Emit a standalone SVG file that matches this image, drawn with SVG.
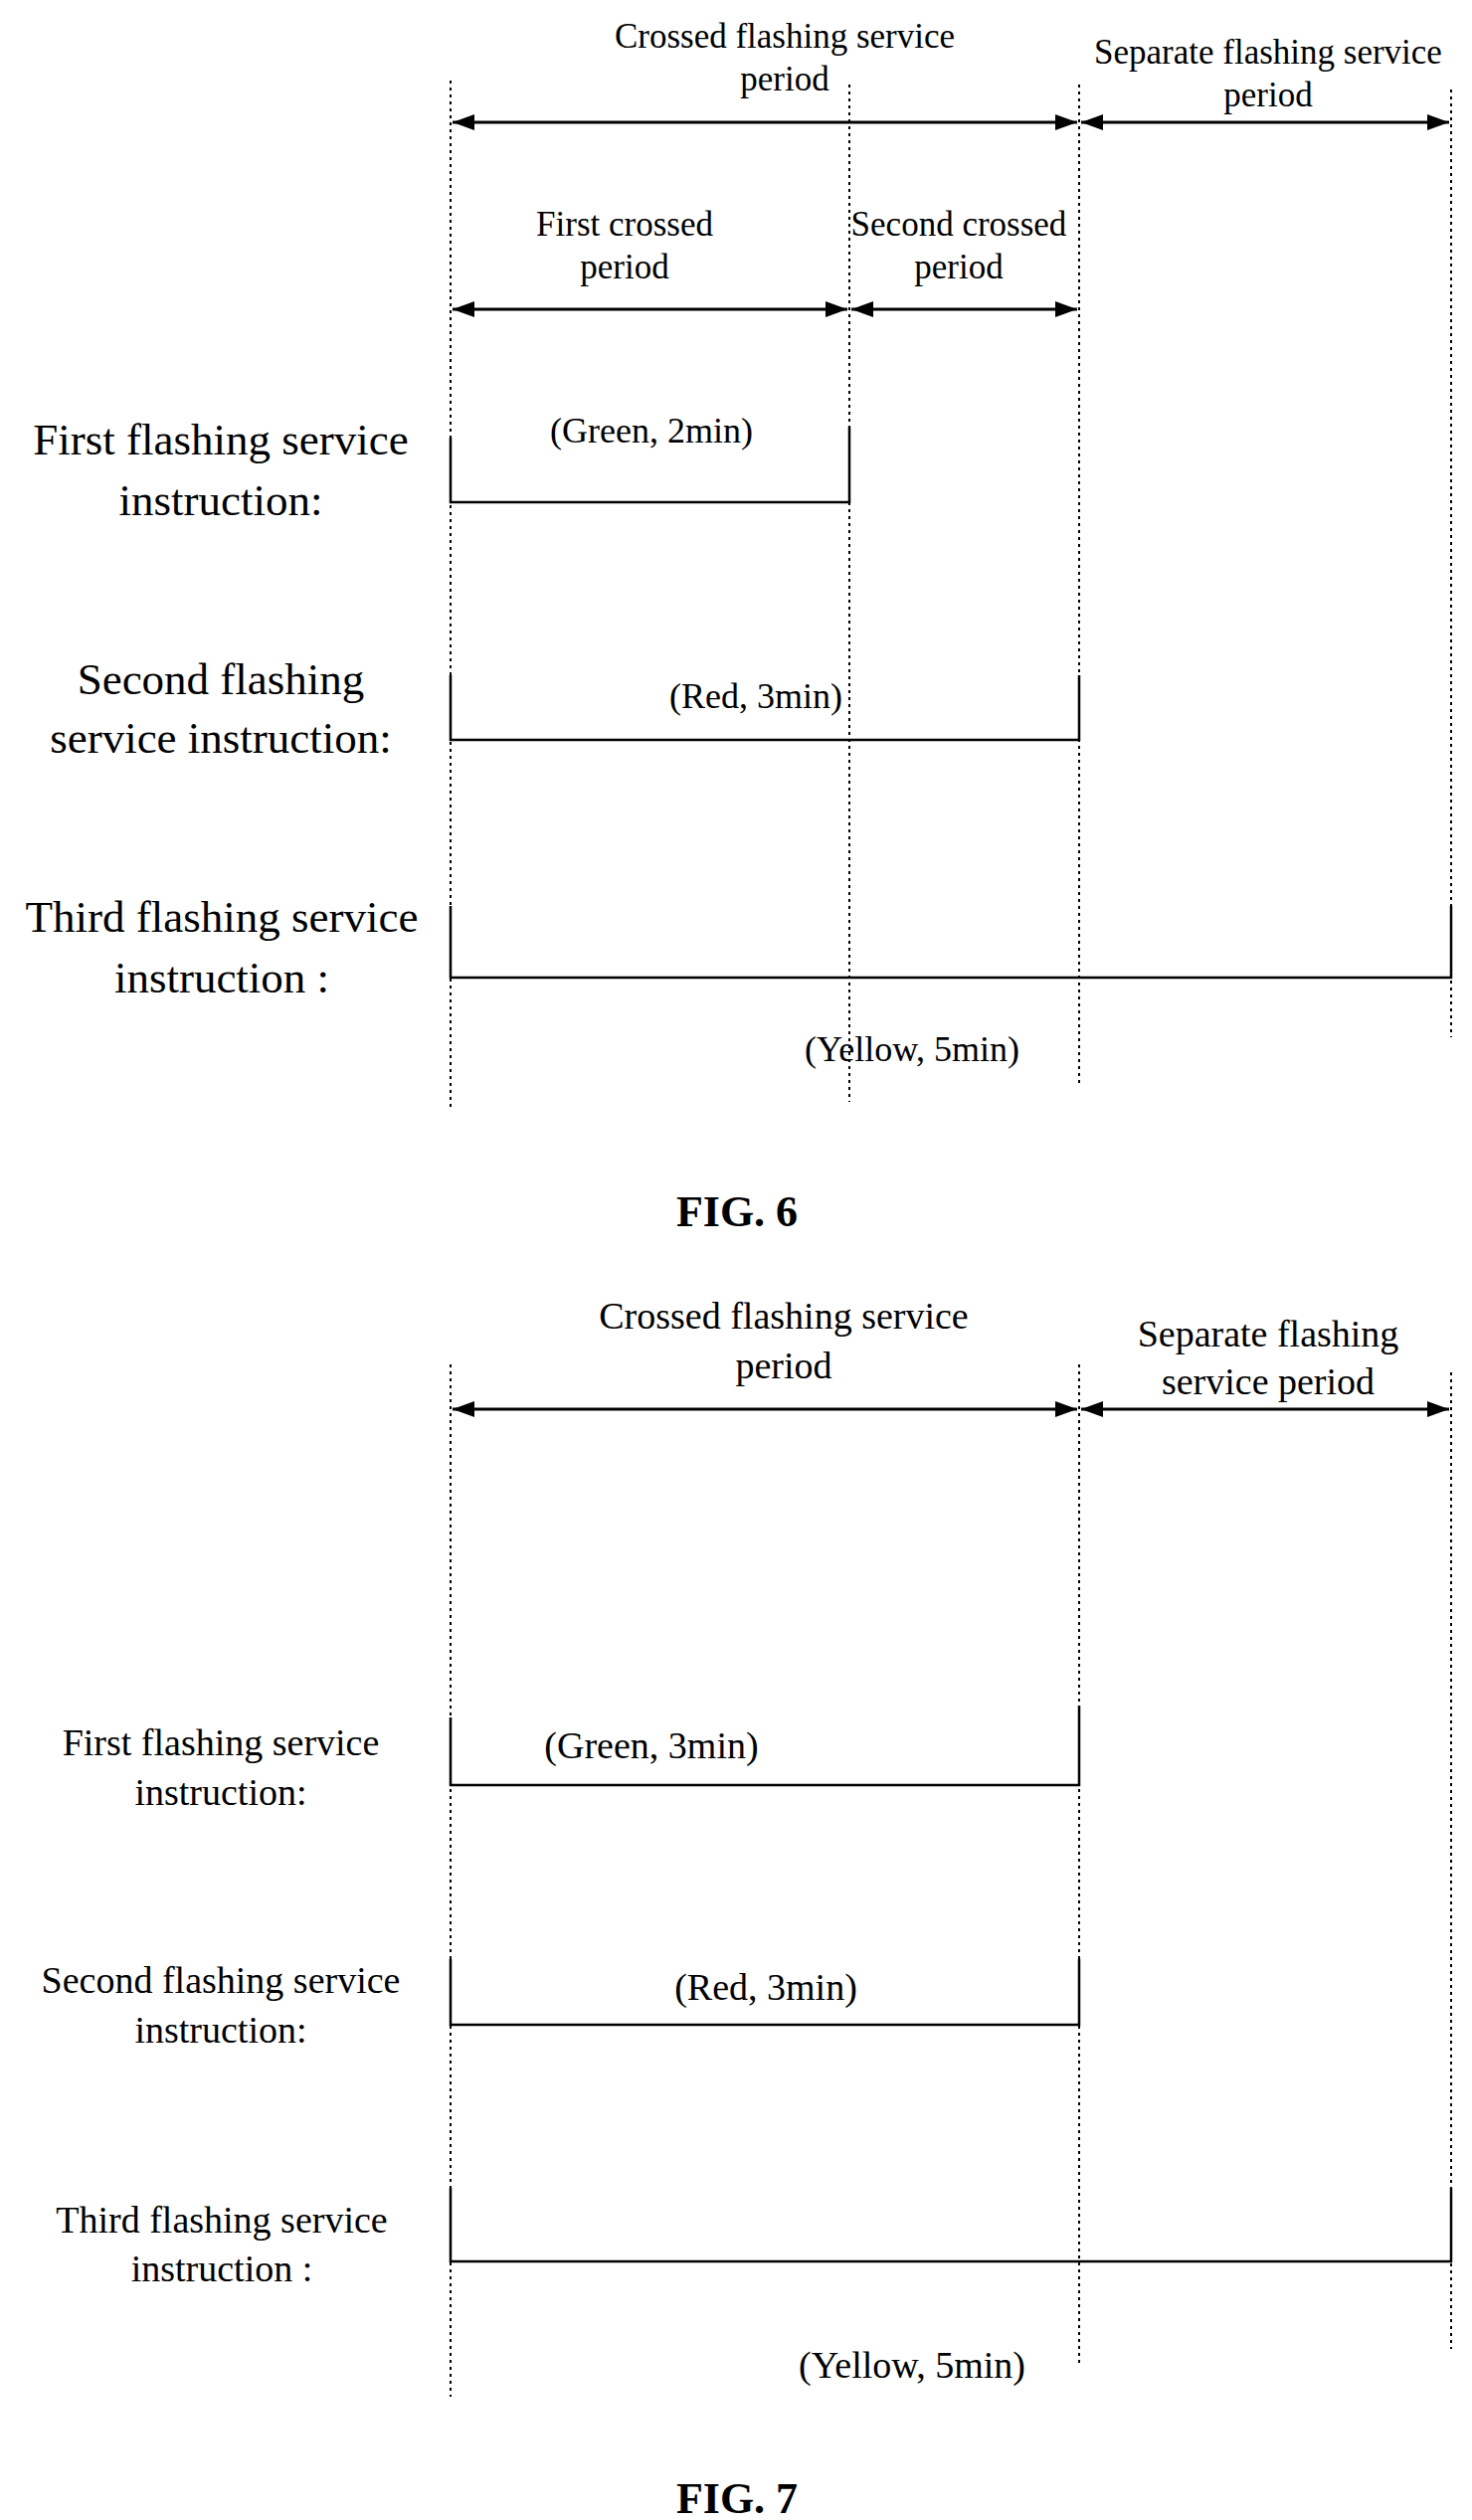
<svg xmlns="http://www.w3.org/2000/svg" width="1480" height="2534" viewBox="0 0 1480 2534">
<style>
text{font-family:"Liberation Serif","Times New Roman",serif;fill:#000;text-anchor:middle}
.s{font-size:35px}.g{font-size:36px}.m{font-size:38px}.l{font-size:45px}.f{font-size:44px;font-weight:bold}
.d{stroke:#000;stroke-width:2;stroke-dasharray:3,4;fill:none}
.a{stroke:#000;stroke-width:3;fill:none;marker-start:url(#h);marker-end:url(#h)}
.w{stroke:#000;stroke-width:2.5;fill:none}
</style>
<defs><marker id="h" viewBox="0 0 22 18" refX="22" refY="9" markerWidth="22" markerHeight="18" markerUnits="userSpaceOnUse" orient="auto-start-reverse"><path d="M0,1 L22,9 L0,17 Z" fill="#000"/></marker></defs>
<g id="fig6">
<g id="guides6">
<line class="d" x1="453" y1="81" x2="453" y2="1116"/>
<line class="d" x1="854" y1="85" x2="854" y2="1108"/>
<line class="d" x1="1085" y1="85" x2="1085" y2="1092"/>
<line class="d" x1="1459" y1="90" x2="1459" y2="1043"/>
</g>
<g id="connectors6">
<line class="a" x1="455" y1="123" x2="1083" y2="123"/>
<line class="a" x1="1087" y1="123" x2="1457" y2="123"/>
<line class="a" x1="455" y1="311" x2="852" y2="311"/>
<line class="a" x1="856" y1="311" x2="1083" y2="311"/>
</g>
<g id="periods6">
<text class="s" x="789" y="48">Crossed flashing service</text>
<text class="s" x="789" y="91">period</text>
<text class="s" x="1275" y="64">Separate flashing service</text>
<text class="s" x="1275" y="107">period</text>
<text class="s" x="628" y="237">First crossed</text>
<text class="s" x="628" y="280">period</text>
<text class="s" x="964" y="237">Second crossed</text>
<text class="s" x="964" y="280">period</text>
</g>
<g id="i1f6">
<text class="l" x="222" y="457">First flashing service</text>
<text class="l" x="222" y="518">instruction:</text>
<text class="g" x="655" y="445">(Green, 2min)</text>
<path class="w" d="M453,440 V505 H854 V429"/>
</g>
<g id="i2f6">
<text class="l" x="222" y="698">Second flashing</text>
<text class="l" x="222" y="757">service instruction:</text>
<text class="g" x="760" y="712">(Red, 3min)</text>
<path class="w" d="M453,679 V744 H1085 V679"/>
</g>
<g id="i3f6">
<text class="l" x="223" y="937">Third flashing service</text>
<text class="l" x="223" y="998">instruction :</text>
<text class="g" x="917" y="1067">(Yellow, 5min)</text>
<path class="w" d="M453,911 V983 H1459 V911"/>
</g>
<text class="f" x="741" y="1233">FIG. 6</text>
</g>
<g id="fig7">
<g id="guides7">
<line class="d" x1="453" y1="1372" x2="453" y2="2410"/>
<line class="d" x1="1085" y1="1372" x2="1085" y2="2378"/>
<line class="d" x1="1459" y1="1380" x2="1459" y2="2362"/>
</g>
<g id="connectors7">
<line class="a" x1="455" y1="1417" x2="1083" y2="1417"/>
<line class="a" x1="1087" y1="1417" x2="1457" y2="1417"/>
</g>
<g id="periods7">
<text class="m" x="788" y="1336">Crossed flashing service</text>
<text class="m" x="788" y="1386">period</text>
<text class="m" x="1275" y="1354">Separate flashing</text>
<text class="m" x="1275" y="1402">service period</text>
</g>
<g id="i1f7">
<text class="m" x="222" y="1765">First flashing service</text>
<text class="m" x="222" y="1815">instruction:</text>
<text class="m" x="655" y="1768">(Green, 3min)</text>
<path class="w" d="M453,1727 V1795 H1085 V1715"/>
</g>
<g id="i2f7">
<text class="m" x="222" y="2004">Second flashing service</text>
<text class="m" x="222" y="2054">instruction:</text>
<text class="m" x="770" y="2011">(Red, 3min)</text>
<path class="w" d="M453,1970 V2036 H1085 V1970"/>
</g>
<g id="i3f7">
<text class="m" x="223" y="2245">Third flashing service</text>
<text class="m" x="223" y="2294">instruction :</text>
<text class="m" x="917" y="2391">(Yellow, 5min)</text>
<path class="w" d="M453,2200 V2274 H1459 V2200"/>
</g>
<text class="f" x="741" y="2527">FIG. 7</text>
</g>
</svg>
